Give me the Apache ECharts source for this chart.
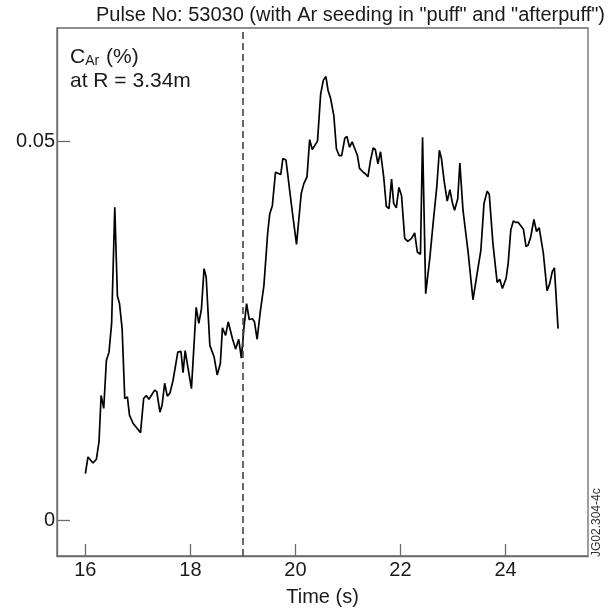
<!DOCTYPE html>
<html>
<head>
<meta charset="utf-8">
<script src="https://cdn.jsdelivr.net/npm/echarts@6/dist/echarts.min.js"></script>
<style>
  html, body { margin: 0; padding: 0; background: #fff; }
  #chart { width: 611px; height: 612px; }
</style>
</head>
<body>
<div id="chart"></div>
<script>
// Argon concentration time trace, JET pulse 53030
const time = [
  16.00, 16.05, 16.145, 16.21, 16.26, 16.30, 16.35, 16.40, 16.45, 16.50,
  16.56, 16.61, 16.65, 16.70, 16.75, 16.80, 16.84, 16.91, 16.98, 17.05,
  17.11, 17.16, 17.21, 17.32, 17.36, 17.42, 17.46, 17.51, 17.56, 17.61,
  17.67, 17.76, 17.82, 17.86, 17.90, 17.95, 18.02, 18.11, 18.16, 18.21,
  18.26, 18.30, 18.37, 18.45, 18.51, 18.57, 18.61, 18.67, 18.72, 18.80,
  18.86, 18.92, 18.97, 19.02, 19.07, 19.12, 19.18, 19.22, 19.27, 19.33,
  19.40, 19.47, 19.51, 19.56, 19.62, 19.72, 19.76, 19.82, 19.92, 20.02,
  20.11, 20.16, 20.22, 20.27, 20.32, 20.42, 20.48, 20.53, 20.58, 20.62,
  20.67, 20.73, 20.78, 20.83, 20.88, 20.94, 20.98, 21.03, 21.08, 21.13,
  21.18, 21.22, 21.29, 21.33, 21.38, 21.43, 21.48, 21.52, 21.57, 21.62,
  21.68, 21.73, 21.78, 21.83, 21.87, 21.92, 21.97, 22.02, 22.08, 22.14,
  22.21, 22.27, 22.32, 22.38, 22.42, 22.48, 22.56, 22.62, 22.69, 22.74,
  22.78, 22.83, 22.89, 22.94, 22.99, 23.03, 23.09, 23.13, 23.19, 23.29,
  23.38, 23.46, 23.53, 23.59, 23.65, 23.69, 23.76, 23.84, 23.89, 23.94,
  24.01, 24.05, 24.10, 24.15, 24.19, 24.24, 24.34, 24.39, 24.43, 24.48,
  24.54, 24.59, 24.64, 24.72, 24.79, 24.84, 24.89, 24.93, 25.00
];
const cAr = [
  0.0062, 0.0084, 0.0076, 0.0081, 0.0104, 0.0165, 0.0148, 0.0211, 0.0222, 0.0260,
  0.0413, 0.0296, 0.0286, 0.0253, 0.0161, 0.0163, 0.0139, 0.0128, 0.0122, 0.0116,
  0.0161, 0.0165, 0.0160, 0.0172, 0.0170, 0.0143, 0.0152, 0.0181, 0.0164, 0.0168,
  0.0185, 0.0222, 0.0223, 0.0195, 0.0224, 0.0203, 0.0174, 0.0281, 0.0260, 0.0279,
  0.0332, 0.0321, 0.0231, 0.0216, 0.0192, 0.0207, 0.0254, 0.0244, 0.0262, 0.0240,
  0.0226, 0.0239, 0.0214, 0.0255, 0.0286, 0.0265, 0.0266, 0.0262, 0.0239, 0.0275,
  0.0310, 0.0378, 0.0404, 0.0415, 0.0459, 0.0456, 0.0477, 0.0475, 0.0418, 0.0364,
  0.0431, 0.0444, 0.0453, 0.0502, 0.0489, 0.0500, 0.0562, 0.0580, 0.0585, 0.0567,
  0.0556, 0.0534, 0.0490, 0.0481, 0.0481, 0.0504, 0.0506, 0.0492, 0.0499, 0.0490,
  0.0481, 0.0464, 0.0459, 0.0457, 0.0453, 0.0475, 0.0491, 0.0489, 0.0470, 0.0486,
  0.0453, 0.0414, 0.0411, 0.0450, 0.0418, 0.0412, 0.0439, 0.0428, 0.0372, 0.0368,
  0.0372, 0.0379, 0.0354, 0.0351, 0.0505, 0.0299, 0.0347, 0.0391, 0.0439, 0.0488,
  0.0477, 0.0448, 0.0421, 0.0436, 0.0418, 0.0409, 0.0424, 0.0471, 0.0409, 0.0352,
  0.0291, 0.0326, 0.0356, 0.0418, 0.0434, 0.0430, 0.0365, 0.0314, 0.0318, 0.0306,
  0.0319, 0.0339, 0.0383, 0.0395, 0.0393, 0.0393, 0.0384, 0.0361, 0.0363, 0.0374,
  0.0397, 0.0381, 0.0386, 0.0352, 0.0303, 0.0312, 0.0328, 0.0333, 0.0253
];

const xTicks = [16, 18, 20, 22, 24];
const yTicks = [0, 0.05];
const seedStart = 19;   // start of Ar seeding ("puff")

const FONT = '"Liberation Sans", Arial, Helvetica, sans-serif';
const AXIS = '#6a6a6a';
const INK = '#1a1a1a';

const chart = echarts.init(document.getElementById('chart'), null, { renderer: 'canvas' });

chart.setOption({
  backgroundColor: '#ffffff',
  animation: false,
  title: [
    {
      text: 'Pulse No: 53030 (with Ar seeding in "puff" and "afterpuff")',
      left: 600, top: 0, textAlign: 'right',
      textStyle: { fontFamily: FONT, fontSize: 20, fontWeight: 'normal', color: INK }
    },
    {
      text: '{c|C}{s|Ar}{c| (%)}\n{c|at R = 3.34m}',
      left: 65, top: 40,
      textStyle: {
        fontFamily: FONT, fontWeight: 'normal', color: INK,
        rich: {
          c: { fontFamily: FONT, fontSize: 21, color: INK, lineHeight: 24 },
          s: { fontFamily: FONT, fontSize: 14, color: INK, padding: [8, 1, 0, 0], lineHeight: 24 }
        }
      }
    }
  ],
  graphic: [
    {
      type: 'text',
      x: 591, y: 557, rotation: Math.PI / 2,
      style: {
        text: 'JG02.304-4c', fill: '#333',
        font: '12px ' + FONT, textAlign: 'left', textVerticalAlign: 'top'
      }
    }
  ],
  grid: {
    left: 57, right: 23, top: 28, bottom: 56,
    show: true, borderColor: AXIS, borderWidth: 1.3, backgroundColor: 'transparent'
  },
  xAxis: {
    type: 'value',
    min: 15.46, max: 25.57,
    name: 'Time (s)', nameLocation: 'middle', nameGap: 31,
    nameTextStyle: { fontFamily: FONT, fontSize: 20, color: INK },
    axisLine: { show: true, onZero: false, lineStyle: { color: AXIS, width: 1.3 } },
    axisTick: { show: true, inside: true, length: 12, customValues: xTicks, lineStyle: { color: AXIS, width: 1.3 } },
    axisLabel: { customValues: xTicks, margin: 4, fontFamily: FONT, fontSize: 20, color: INK },
    splitLine: { show: false }
  },
  yAxis: {
    type: 'value',
    min: -0.00465, max: 0.0649,
    axisLine: { show: true, onZero: false, lineStyle: { color: AXIS, width: 1.3 } },
    axisTick: { show: true, inside: true, length: 13, customValues: yTicks, lineStyle: { color: AXIS, width: 1.3 } },
    axisLabel: {
      customValues: yTicks, margin: 2, fontFamily: FONT, fontSize: 20, color: INK,
      formatter: v => (v === 0 ? '0' : String(v))
    },
    splitLine: { show: false }
  },
  series: [
    {
      type: 'line',
      data: time.map((t, i) => [t, cAr[i]]),
      showSymbol: false, symbol: 'none', smooth: false,
      lineStyle: { color: '#000', width: 1.7 },
      z: 3,
      markLine: {
        silent: true, symbol: 'none', label: { show: false },
        lineStyle: { color: '#444', width: 1.6, type: [7, 4] },
        data: [{ xAxis: seedStart }]
      }
    }
  ]
});
</script>
</body>
</html>
